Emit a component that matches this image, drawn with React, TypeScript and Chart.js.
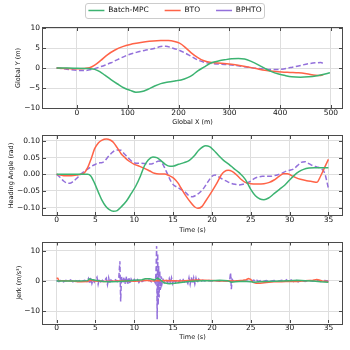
import React, { useEffect, useRef } from "react";
import { Chart, registerables } from "chart.js";
Chart.register(...registerables);

const FONT = "'DejaVu Sans', sans-serif";
const SERIES = ["Batch-MPC", "BTO", "BPHTO"];
const COLORS = ["#3cb371", "#ff6347", "#9370db"];
const DASHES: number[][] = [[], [], [5, 2.5]];

// ---- Panel 1: trajectories (Global X vs Global Y) ----
const mpcX = [-40, -20, 0, 15, 25, 35, 45, 55, 67, 80, 93, 105, 116, 128, 140, 153, 165, 180, 195, 205, 218, 228, 238, 250, 265, 280, 291, 305, 318, 330, 344, 357, 370, 383, 397, 410, 423, 440, 456, 470, 482, 498];
const mpcY = [0, 0, -0.05, -0.1, -0.15, -0.35, -0.9, -1.8, -2.9, -4.0, -5.0, -5.6, -6.05, -5.9, -5.3, -4.5, -3.9, -3.5, -3.2, -3.0, -2.4, -1.7, -0.7, 0.2, 1.3, 1.8, 2.05, 2.3, 2.35, 2.25, 1.6, 0.8, -0.1, -0.9, -1.5, -1.9, -2.2, -2.3, -2.2, -2.0, -1.7, -1.2];
const btoX = [-40, -20, 0, 15, 25, 35, 47, 60, 75, 90, 105, 120, 135, 150, 165, 180, 192, 202, 212, 225, 238, 250, 265, 284, 304, 320, 337, 355, 370, 386, 403, 420, 436, 452, 469, 478, 485];
const btoY = [0, -0.15, -0.2, -0.1, 0.05, 0.7, 1.9, 3.3, 4.5, 5.35, 5.9, 6.25, 6.55, 6.75, 6.85, 6.85, 6.65, 6.2, 5.3, 3.8, 2.6, 1.8, 1.35, 1.2, 0.95, 0.65, 0.25, -0.2, -0.55, -0.8, -1.0, -1.1, -1.2, -1.45, -1.8, -1.9, -1.65];
const phX = [-40, -20, 0, 14, 28, 41, 55, 67, 80, 100, 117, 133, 150, 165, 175, 188, 200, 212, 225, 238, 252, 265, 284, 304, 320, 337, 355, 377, 390, 403, 420, 436, 455, 469, 480, 487];
const phY = [0, -0.3, -0.6, -0.65, -0.4, 0.1, 0.7, 1.3, 2.1, 3.25, 3.9, 4.4, 4.8, 5.35, 5.45, 5.0, 4.5, 3.8, 2.9, 2.0, 1.4, 1.15, 0.95, 0.75, 0.5, 0.2, -0.1, -0.35, -0.4, -0.3, 0.1, 0.5, 1.05, 1.3, 1.35, 1.0];

// ---- Panel 2: heading angle vs time ----
const mpcHT = [0, 1, 2, 3, 4, 4.4, 4.9, 5.4, 5.8, 6.3, 6.8, 7.3, 7.8, 8.3, 9, 9.6, 10.2, 10.8, 11.3, 11.8, 12.4, 12.9, 13.4, 14, 14.6, 15.1, 15.7, 16.4, 17.1, 17.7, 18.3, 18.8, 19.2, 19.7, 20.2, 20.8, 21.5, 22.2, 22.8, 23.5, 24.3, 25, 25.6, 26.2, 26.7, 27.3, 28, 28.7, 29.4, 30, 30.6, 31.2, 31.8, 32.5, 33.2, 34, 35];
const mpcH = [0, 0, 0, 0, 0, -0.005, -0.027, -0.055, -0.076, -0.095, -0.106, -0.111, -0.109, -0.098, -0.08, -0.058, -0.035, -0.005, 0.025, 0.043, 0.052, 0.05, 0.042, 0.03, 0.024, 0.025, 0.03, 0.035, 0.042, 0.055, 0.072, 0.082, 0.086, 0.083, 0.073, 0.058, 0.042, 0.03, 0.018, 0.005, -0.015, -0.045, -0.064, -0.074, -0.076, -0.071, -0.058, -0.045, -0.032, -0.017, -0.003, 0.008, 0.015, 0.019, 0.02, 0.02, 0.02];
const btoHT = [0, 0.9, 1.9, 2.8, 3.5, 4.0, 4.5, 4.9, 5.4, 5.8, 6.4, 6.9, 7.3, 7.8, 8.3, 8.8, 9.3, 10, 10.7, 11.3, 12, 12.6, 13.2, 13.9, 14.5, 15.1, 15.6, 16, 16.6, 17.3, 17.8, 18.2, 18.7, 19.2, 19.9, 20.6, 21.2, 21.6, 22.1, 22.6, 23.1, 23.7, 24.3, 25, 25.8, 26.7, 27.4, 28, 28.6, 29.2, 29.7, 30.2, 30.8, 31.4, 32.2, 33, 33.5, 34, 34.5, 35];
const btoH = [0, -0.004, -0.004, -0.001, 0.003, 0.02, 0.05, 0.077, 0.095, 0.102, 0.106, 0.103, 0.096, 0.08, 0.062, 0.05, 0.04, 0.03, 0.024, 0.018, 0.01, 0.003, 0.001, 0.001, -0.004, -0.012, -0.025, -0.04, -0.063, -0.085, -0.098, -0.102, -0.097, -0.08, -0.055, -0.028, -0.002, 0.008, 0.012, 0.009, 0.0, -0.014, -0.024, -0.028, -0.029, -0.028, -0.024, -0.017, -0.007, 0.002, 0.002, -0.003, -0.01, -0.015, -0.019, -0.022, -0.024, -0.005, 0.02, 0.045];
const phHT = [0, 0.4, 0.9, 1.3, 1.7, 2.1, 2.6, 3.0, 3.4, 3.9, 4.5, 5.0, 5.4, 5.8, 6.2, 6.6, 7.0, 7.4, 7.8, 8.3, 8.7, 9.2, 9.8, 10.4, 10.9, 11.5, 12.2, 12.7, 13.2, 13.6, 13.9, 14.3, 14.7, 15.1, 15.5, 16, 16.5, 17, 17.5, 18, 18.5, 19, 19.5, 20, 20.4, 20.9, 21.4, 22, 22.5, 23, 23.5, 24, 24.5, 25, 25.5, 26, 26.5, 27, 27.5, 28, 28.5, 29, 29.5, 30, 30.5, 31, 31.5, 32, 32.5, 33, 33.5, 34, 34.5, 35];
const phH = [0, -0.008, -0.02, -0.026, -0.027, -0.022, -0.012, -0.002, 0.006, 0.014, 0.024, 0.03, 0.034, 0.035, 0.04, 0.052, 0.062, 0.07, 0.073, 0.072, 0.062, 0.05, 0.037, 0.033, 0.033, 0.032, 0.031, 0.036, 0.04, 0.033, 0.02, 0.0, -0.02, -0.033, -0.038, -0.045, -0.052, -0.063, -0.067, -0.062, -0.053, -0.04, -0.022, -0.006, -0.002, -0.008, -0.015, -0.022, -0.027, -0.03, -0.032, -0.03, -0.026, -0.02, -0.012, -0.008, -0.006, -0.006, -0.006, -0.004, -0.001, 0.003, 0.009, 0.012, 0.016, 0.026, 0.036, 0.038, 0.032, 0.026, 0.022, 0.018, 0.005, -0.042];

// ---- Panel 3: jerk vs time ----
const mpcJT = [0, 1, 2, 3, 4, 4.2, 4.5, 5, 6, 7, 8, 9, 10, 11, 11.4, 12, 12.6, 13, 13.4, 13.8, 14.5, 15.2, 16, 17, 18, 19, 20, 21, 22, 22.5, 23, 24, 25, 25.5, 26, 27, 28, 29, 30, 31, 32, 33, 34, 35];
const mpcJ = [0, 0, 0, 0, 0.1, 0.7, 0.5, 0.2, -0.2, -0.3, -0.2, 0, 0.2, 0.4, 0.7, 0.7, 0.3, 0.9, 0.3, -0.6, -0.9, -0.8, -0.5, -0.2, 0, 0.1, 0.1, 0.2, 0.1, -0.4, -0.3, -0.1, -0.3, -0.4, -0.3, -0.2, -0.1, 0, 0.1, 0.2, 0.1, 0, -0.3, -0.4];
const btoJT = [0, 0.15, 0.3, 1, 2, 2.8, 3.2, 4, 4.3, 4.6, 5, 6, 7, 8, 9, 10, 11, 11.5, 12, 12.5, 13, 13.5, 14, 15, 16, 17, 18, 19, 20, 21, 22, 23, 24, 24.4, 24.7, 25, 25.3, 25.7, 26.2, 27, 28, 29, 30, 31, 32, 33, 33.5, 33.8, 34.2, 35];
const btoJ = [0.9, 0.9, 0.1, 0.05, 0, -0.3, -0.3, -0.2, 0.2, 0.15, 0.0, -0.2, -0.1, 0, 0.1, -0.1, 0.1, 0.25, 0.05, 0.0, 0.15, 0.1, 0.15, 0.1, 0.0, 0.15, 0.3, 0.2, 0.15, 0, 0.05, 0.0, 0.2, 0.4, 0.8, 0.5, -0.5, -0.8, -0.8, -0.5, -0.3, -0.3, -0.1, -0.2, 0.1, 0.2, 0.5, 0.3, 0.0, -0.2];
const phJT = [0, 0.3, 0.6, 0.9, 1.2, 1.5, 1.8, 2.1, 2.4, 2.7, 3.0, 3.3, 3.6, 3.9, 4.1, 4.25, 4.4, 4.55, 4.7, 4.85, 5.0, 5.2, 5.35, 5.5, 5.7, 5.9, 6.1, 6.4, 6.55, 6.7, 6.85, 7.0, 7.3, 7.6, 7.8, 8.0, 8.15, 8.25, 8.35, 8.5, 8.7, 8.85, 9.0, 9.15, 9.3, 9.45, 9.6, 9.8, 10.0, 10.2, 10.4, 10.6, 10.8, 11.0, 11.3, 11.6, 11.9, 12.2, 12.5, 12.7, 12.8, 12.88, 12.95, 13.02, 13.08, 13.14, 13.2, 13.28, 13.35, 13.45, 13.55, 13.7, 13.9, 14.1, 14.3, 14.5, 14.65, 14.8, 14.95, 15.1, 15.3, 15.5, 15.7, 15.9, 16.1, 16.3, 16.5, 16.7, 16.9, 17.05, 17.2, 17.35, 17.5, 17.65, 17.8, 17.95, 18.1, 18.3, 18.5, 18.8, 19.2, 19.6, 20, 20.5, 21, 21.5, 22, 22.3, 22.4, 22.5, 22.6, 22.8, 23.2, 24, 25, 25.4, 25.6, 25.8, 26, 26.3, 26.6, 27, 27.5, 28, 28.5, 29, 29.3, 29.6, 29.9, 30.2, 30.5, 30.8, 31.1, 31.5, 32, 32.5, 33, 33.5, 34, 34.5, 35];
const phJ = [0.2, -0.2, 0.3, -0.3, 0.2, -0.2, 0.3, -0.3, 0.2, -0.2, 0.1, -0.1, 0.2, -0.2, 0.8, -1.0, 1.0, -0.8, 0.5, -0.4, 0.3, 1.2, -1.1, 0.6, -0.3, 0.2, -0.2, 0.9, -1.2, 1.0, -0.9, 0.3, -0.3, 0.4, -0.2, 0.5, 6.5, -6.8, 1.5, -0.8, 1.3, -1.0, 1.5, -1.3, 1.2, -1.0, 0.6, -0.4, 0.5, -0.3, 0.4, -0.5, 0.3, -0.2, 0.2, -0.2, 0.3, -0.3, 0.4, -0.6, 2.5, 11.5, -12.7, 9.0, -8.0, 5.0, -5.5, 3.5, -3.0, 1.5, -1.2, 0.5, -0.5, 0.4, -0.6, 0.8, -0.9, 1.0, -0.8, 0.6, -0.5, 0.4, -0.4, 0.3, -0.5, 0.4, -0.3, 0.3, -0.8, 1.0, -1.1, 1.2, -0.9, 1.0, -1.0, 0.9, -0.7, 0.6, -0.3, 0.2, -0.1, 0.1, 0, 0.1, -0.1, 0.1, 0, 0.4, 2.7, -2.7, 0.5, -0.2, 0.1, 0, -0.1, 0.3, -0.3, 0.2, -0.2, 0.2, -0.2, 0.1, -0.1, 0.1, -0.1, 0.2, -0.3, 0.4, -0.4, 0.3, -0.2, 0.3, -0.3, 0.2, -0.2, 0.2, -0.1, 0.2, -0.2, 0.1, 0];

// ---- tick labels ----
const POS_X_TICKS = [0, 100, 200, 300, 400, 500];
const POS_Y_TICKS = [-10, -5, 0, 5, 10];
const TIME_TICKS = [0, 5, 10, 15, 20, 25, 30, 35];
const HEADING_TICKS = [-0.1, -0.05, 0, 0.05, 0.1];
const JERK_TICKS = [-10, 0, 10];

const pts = (xs: number[], ys: number[]) => xs.map((x, i) => ({ x, y: ys[i] }));
const fmt = (v: number, d: number) => (v < 0 ? "\u2212" : "") + Math.abs(v).toFixed(d);

const TICK_FONT = { family: FONT, size: 7.5 };
const TITLE_FONT = { family: FONT, size: 6.5 };
const GRID = "#dedede";
const SPINE = "#4a4a4a";

const framePlugin = {
  id: "frame",
  afterDatasetsDraw(chart: any) {
    const { ctx, chartArea: a } = chart;
    const xs = chart.scales.x;
    const ys = chart.scales.y;
    ctx.save();
    ctx.strokeStyle = SPINE;
    ctx.lineWidth = 1;
    ctx.beginPath();
    for (const t of xs.ticks) {
      const p = Math.round(xs.getPixelForValue(t.value)) + 0.5;
      ctx.moveTo(p, a.top);
      ctx.lineTo(p, a.top + 3);
      ctx.moveTo(p, a.bottom);
      ctx.lineTo(p, a.bottom - 3);
    }
    for (const t of ys.ticks) {
      const p = Math.round(ys.getPixelForValue(t.value)) + 0.5;
      ctx.moveTo(a.left, p);
      ctx.lineTo(a.left + 3, p);
      ctx.moveTo(a.right, p);
      ctx.lineTo(a.right - 3, p);
    }
    ctx.stroke();
    ctx.strokeRect(Math.round(a.left) - 0.5, Math.round(a.top) - 0.5, Math.round(a.width) + 1, Math.round(a.height) + 1);
    ctx.restore();
  },
};

const legendFrame = {
  id: "legendFrame",
  beforeDraw(chart: any) {
    const lg = chart.legend;
    if (!lg || !lg.legendHitBoxes || !lg.legendHitBoxes.length) return;
    const hb = lg.legendHitBoxes;
    const l = hb[0].left - 3;
    const last = hb[hb.length - 1];
    const r = last.left + last.width + 3;
    const cy = hb[0].top + hb[0].height / 2;
    const ctx = chart.ctx;
    ctx.save();
    ctx.beginPath();
    ctx.roundRect(Math.round(l) + 0.5, Math.round(cy - 7.5) + 0.5, Math.round(r - l), 15, 2.5);
    ctx.fillStyle = "#ffffff";
    ctx.fill();
    ctx.strokeStyle = "#cccccc";
    ctx.lineWidth = 1;
    ctx.stroke();
    ctx.restore();
  },
};

function makeDatasets(data: { x: number; y: number }[][], smooth: boolean) {
  return data.map((d, i) => ({
    label: SERIES[i],
    data: d,
    borderColor: COLORS[i],
    backgroundColor: COLORS[i],
    borderWidth: 1.5,
    borderDash: DASHES[i],
    pointRadius: 0,
    fill: false,
    cubicInterpolationMode: smooth ? "monotone" : "default",
    tension: 0,
    xAxisID: "x",
    yAxisID: "y",
  }));
}

function xScale(min: number, max: number, ticks: number[], title: string, height: number) {
  return {
    type: "linear",
    position: "bottom",
    min,
    max,
    afterBuildTicks: (s: any) => {
      s.ticks = ticks.map((v) => ({ value: v }));
    },
    afterFit: (s: any) => {
      s.height = height;
    },
    ticks: {
      font: TICK_FONT,
      color: "#111",
      padding: 1,
      autoSkip: false,
      maxRotation: 0,
      callback: (v: any) => fmt(Number(v), 0),
    },
    grid: { color: GRID, lineWidth: 1, drawTicks: false },
    border: { display: false },
    title: { display: true, text: title, font: TITLE_FONT, color: "#111", padding: { top: 0, bottom: 1 } },
  };
}

function yScale(min: number, max: number, ticks: number[], dec: number, title: string, titlePad: number) {
  return {
    type: "linear",
    position: "left",
    min,
    max,
    afterBuildTicks: (s: any) => {
      s.ticks = ticks.map((v) => ({ value: v }));
    },
    afterFit: (s: any) => {
      s.width = 43;
    },
    ticks: {
      font: TICK_FONT,
      color: "#111",
      padding: 3,
      autoSkip: false,
      callback: (v: any) => fmt(Number(v), dec),
    },
    grid: { color: GRID, lineWidth: 1, drawTicks: false },
    border: { display: false },
    title: { display: true, text: title, font: TITLE_FONT, color: "#111", padding: { top: titlePad, bottom: 0 } },
  };
}

const spacer = (position: string, size: number) => ({
  type: "linear",
  position,
  display: true,
  grid: { display: false, drawTicks: false },
  ticks: { display: false },
  border: { display: false },
  afterFit: (s: any) => {
    if (position === "top" || position === "bottom") s.height = size;
    else s.width = size;
  },
});

function useChart(ref: React.RefObject<HTMLCanvasElement>, build: () => any) {
  useEffect(() => {
    if (!ref.current) return;
    const chart = new Chart(ref.current, build());
    return () => chart.destroy();
  }, []);
}

export default function App() {
  const c1 = useRef<HTMLCanvasElement>(null);
  const c2 = useRef<HTMLCanvasElement>(null);
  const c3 = useRef<HTMLCanvasElement>(null);

  useChart(c1, () => ({
    type: "line",
    data: { datasets: makeDatasets([pts(mpcX, mpcY), pts(btoX, btoY), pts(phX, phY)], true) },
    plugins: [legendFrame, framePlugin],
    options: {
      responsive: false,
      animation: false,
      events: [],
      layout: { padding: { top: -9.25, left: 0, right: 0, bottom: 0 } },
      plugins: {
        tooltip: { enabled: false },
        legend: {
          display: true,
          position: "top",
          labels: {
            usePointStyle: true,
            pointStyle: "line",
            pointStyleWidth: 16,
            font: { family: FONT, size: 7.5 },
            color: "#111",
            padding: 16,
          },
        },
      },
      scales: {
        x: xScale(-66.75, 521.75, POS_X_TICKS, "Global X (m)", 19),
        y: yScale(-10, 10, POS_Y_TICKS, 0, "Global Y (m)", 14),
        xTop: spacer("top", 3.75),
        yRight: spacer("right", 8),
      },
    },
  }));

  useChart(c2, () => ({
    type: "line",
    data: { datasets: makeDatasets([pts(mpcHT, mpcH), pts(btoHT, btoH), pts(phHT, phH)], true) },
    plugins: [framePlugin],
    options: {
      responsive: false,
      animation: false,
      events: [],
      layout: { padding: { top: 9, left: 0, right: 8, bottom: 0 } },
      plugins: { tooltip: { enabled: false }, legend: { display: false } },
      scales: {
        x: xScale(-1.75, 36.75, TIME_TICKS, "Time (s)", 20),
        y: yScale(-0.122, 0.115, HEADING_TICKS, 2, "Heading Angle (rad)", 7.6),
      },
    },
  }));

  useChart(c3, () => ({
    type: "line",
    data: { datasets: makeDatasets([pts(mpcJT, mpcJ), pts(btoJT, btoJ), pts(phJT, phJ)], false) },
    plugins: [framePlugin],
    options: {
      responsive: false,
      animation: false,
      events: [],
      layout: { padding: { top: 7, left: 0, right: 8, bottom: 8 } },
      plugins: { tooltip: { enabled: false }, legend: { display: false } },
      scales: {
        x: xScale(-1.75, 36.75, TIME_TICKS, "Time (s)", 19),
        y: yScale(-13.9, 12.7, JERK_TICKS, 0, "Jerk (m/s\u00b3)", 15.6),
      },
    },
  }));

  const cs: React.CSSProperties = { position: "absolute", left: 0, display: "block" };
  return (
    <div style={{ position: "absolute", left: 0, top: 0, width: 350, height: 350, background: "#ffffff", overflow: "hidden" }}>
      <canvas ref={c1} width={350} height={127} style={{ ...cs, top: 0, width: 350, height: 127 }} />
      <canvas ref={c2} width={350} height={108} style={{ ...cs, top: 127, width: 350, height: 108 }} />
      <canvas ref={c3} width={350} height={115} style={{ ...cs, top: 235, width: 350, height: 115 }} />
    </div>
  );
}
